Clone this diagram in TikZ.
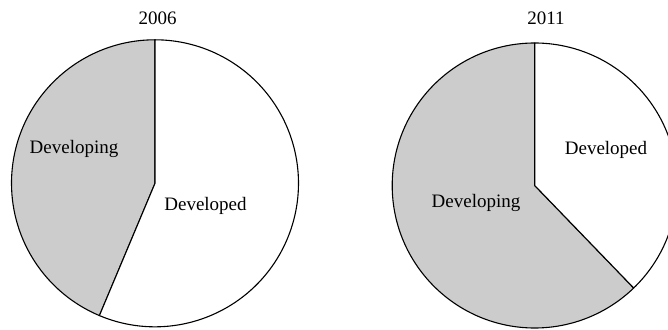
\documentclass[tikz,border=0pt]{standalone}
\usepackage{fontspec}
\setmainfont{Liberation Serif}
\begin{document}
\begin{tikzpicture}[x=1pt,y=1pt,font=\fontsize{19}{22}\selectfont,line join=round,line cap=round]
\tikzset{slice/.style={draw=black,line width=1.1pt,fill=white},
	devslice/.style={slice,fill=black!20},
	lbl/.style={anchor=base,inner sep=0pt}}
\useasboundingbox (0,0) rectangle (668,329);
\clip (0,0) rectangle (668,329);
% 2006
\def\rl{143.5} \def\cutl{247.2}
\coordinate (L) at (155,145.7);
\filldraw[devslice] (L) -- ++(90:\rl) arc (90:\cutl:\rl) -- cycle;
\filldraw[slice] (L) -- ++(\cutl:\rl) arc (\cutl:450:\rl) -- cycle;
\node[lbl] (yearL) at (157.5,304) {2006};
\node[lbl] (devL) at (74,175) {Developing};
\node[lbl] (dedL) at (205.5,118.3) {Developed};
% 2011
\def\rr{142.5} \def\cutr{314}
\coordinate (R) at (534.7,143.5);
\filldraw[devslice] (R) -- ++(90:\rr) arc (90:\cutr:\rr) -- cycle;
\filldraw[slice] (R) -- ++(\cutr:\rr) arc (\cutr:450:\rr) -- cycle;
\node[lbl] (yearR) at (546,304) {2011};
\node[lbl] (dedR) at (606,174) {Developed};
\node[lbl] (devR) at (476,121.7) {Developing};
\end{tikzpicture}
\end{document}
